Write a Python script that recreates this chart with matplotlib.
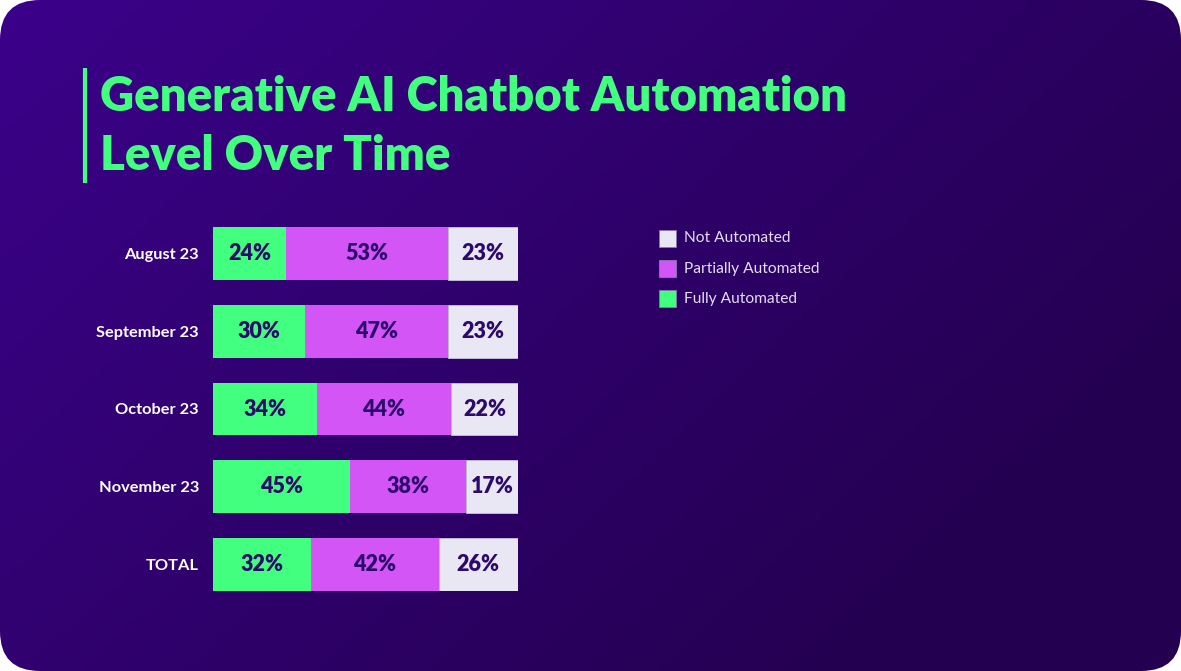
import numpy as np
import matplotlib.pyplot as plt
from matplotlib.patches import FancyBboxPatch, Rectangle

# data
periods = ['August 23', 'September 23', 'October 23', 'November 23', 'TOTAL']
fully = [24, 30, 34, 45, 32]
partially = [53, 47, 44, 38, 42]
not_auto = [23, 23, 22, 17, 26]
series_names = ['Not Automated', 'Partially Automated', 'Fully Automated']

green = '#42ff80'
magenta = '#d455f6'
light = '#e9e7f3'
dark_txt = '#2c0a6b'
W, H = 1181, 671

plt.rcParams['font.family'] = ['Lato', 'DejaVu Sans']
fig = plt.figure(figsize=(W / 100, H / 100), dpi=100)
fig.patch.set_facecolor('white')

# background with gradient and rounded corners
bg = fig.add_axes([0, 0, 1, 1])
bg.set_xlim(0, W)
bg.set_ylim(H, 0)
bg.axis('off')
xx, yy = np.meshgrid(np.linspace(0, 1, 200), np.linspace(0, 1, 120))
t = np.clip(xx * 0.75 + yy * 0.45, 0, 1)
c0 = np.array([0x3b, 0x02, 0x8a]) / 255
c1 = np.array([0x24, 0x00, 0x50]) / 255
img = c0[None, None, :] * (1 - t[..., None]) + c1[None, None, :] * t[..., None]
im = bg.imshow(img, extent=[0, W, H, 0], aspect='auto', zorder=0)
card = FancyBboxPatch((20, 20), W - 40, H - 40, boxstyle='round,pad=20,rounding_size=40',
                      transform=bg.transData, facecolor='none', edgecolor='none')
bg.add_patch(card)
im.set_clip_path(card)

# title
bg.plot([85, 85], [68, 183], color=green, lw=3, solid_capstyle='butt')
bg.text(100, 97, 'Generative AI Chatbot Automation', color=green, fontsize=34,
        fontweight='heavy', va='center', ha='left')
bg.text(100, 156, 'Level Over Time', color=green, fontsize=34,
        fontweight='heavy', va='center', ha='left')

# bars
ax = fig.add_axes([213 / W, (H - 591) / H, (518 - 213) / W, 364 / H])
ax.set_facecolor('none')
y = np.arange(len(periods))
h = 0.68
left2 = np.array(fully)
left3 = left2 + np.array(partially)
ax.barh(y, fully, height=h, color=green, edgecolor='none')
ax.barh(y, partially, left=left2, height=h, color=magenta, edgecolor='none')
ax.barh(y, not_auto, left=left3, height=h, color=light, edgecolor='#c9c3dc', linewidth=0.6)
for i in range(len(periods)):
    for start, val in [(0, fully[i]), (left2[i], partially[i]), (left3[i], not_auto[i])]:
        ax.text(start + val / 2, y[i], f'{val}%', ha='center', va='center',
                color=dark_txt, fontsize=15.5, fontweight='heavy')
ax.set_xlim(0, 100)
ax.set_ylim(len(periods) - 1 + h / 2, -h / 2)
ax.set_yticks(y)
ax.set_yticklabels(periods, color='white', fontsize=11.8, fontweight='bold')
ax.tick_params(axis='y', length=0, pad=10)
ax.set_xticks([])
for s in ax.spines.values():
    s.set_visible(False)

# legend
legend_colors = [light, magenta, green]
for k, (name, col) in enumerate(zip(series_names, legend_colors)):
    yc = 238 + 30 * k
    bg.add_patch(Rectangle((659, yc - 8), 17, 17, facecolor=col, edgecolor='#8a78b0', lw=0.6))
    bg.text(684, yc + 0.5, name, color='#e4dcf2', fontsize=11.2, va='center', ha='left')

fig.savefig('out.png', dpi=100, facecolor=fig.get_facecolor())
